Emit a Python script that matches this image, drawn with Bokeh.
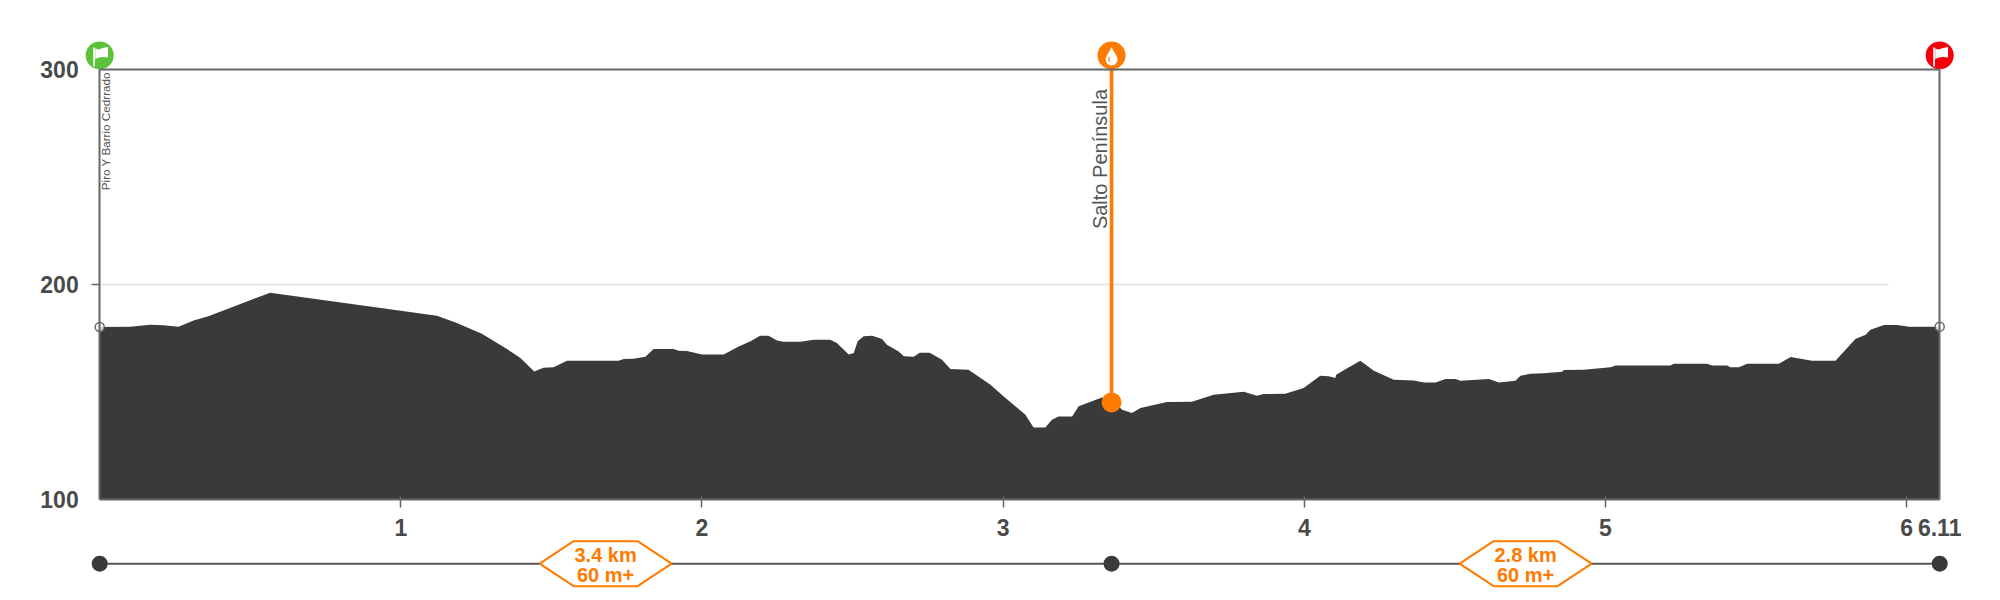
from bokeh.plotting import figure
from bokeh.models import LinearAxis, FixedTicker
from bokeh.core.properties import value
from bokeh.embed import file_html
from bokeh.resources import INLINE
import math

# ---- data ----
km = [0, .101, .168, .212, .262, .312, .361, .566, 1.120, 1.186, 1.269, 1.347, 1.397, 1.443, 1.474, 1.507, 1.552,
      1.723, 1.740, 1.773, 1.812, 1.839, 1.906, 1.922, 1.950, 2.000, 2.072, 2.122, 2.161, 2.193, 2.221, 2.249, 2.271,
      2.327, 2.371, 2.426, 2.448, 2.487, 2.504, 2.517, 2.537, 2.565, 2.598, 2.614, 2.653, 2.670, 2.703, 2.723, 2.756,
      2.797, 2.825, 2.885, 2.902, 2.958, 3.002, 3.074, 3.101, 3.140, 3.162, 3.184, 3.229, 3.251, 3.328, 3.360, 3.395,
      3.428, 3.456, 3.544, 3.627, 3.699, 3.799, 3.843, 3.865, 3.937, 3.998, 4.053, 4.081, 4.103, 4.106, 4.131, 4.186,
      4.231, 4.297, 4.364, 4.397, 4.436, 4.469, 4.502, 4.519, 4.613, 4.646, 4.701, 4.718, 4.751, 4.795, 4.856, 4.862,
      4.928, 5.017, 5.034, 5.216, 5.227, 5.338, 5.354, 5.404, 5.415, 5.443, 5.471, 5.576, 5.615, 5.686, 5.764, 5.830,
      5.864, 5.880, 5.925, 5.969, 6.008, 6.11]
elevation = [180.2, 180.4, 181.3, 181.1, 180.4, 183.2, 185.2, 196.2, 185.5, 182.1, 177.1, 170.5, 165.8, 159.6, 161.3, 161.5, 164.6,
             164.6, 165.4, 165.5, 166.4, 170, 170, 169.2, 169.1, 167.4, 167.5, 171.2, 173.6, 176.2, 176.2, 174, 173.4,
             173.4, 174.3, 174.3, 172.8, 167.4, 168.1, 173.6, 175.9, 176.2, 174.6, 172, 168.9, 166.6, 166.4, 168.3, 168.3,
             165, 160.7, 160.4, 158.8, 153.4, 148, 139.5, 133.6, 133.6, 137.2, 138.6, 138.6, 143.4, 147.5, 146.5, 141.8,
             140.3, 142.6, 145.4, 145.5, 148.8, 150.2, 148.3, 149.1, 149.2, 151.9, 157.6, 157.3, 156.5, 158.1, 160.1, 164.6,
             159.9, 155.7, 155.4, 154.5, 154.5, 156.1, 156.1, 155.3, 156.1, 154.5, 155.3, 157.6, 158.5, 158.8, 159.5, 160.2,
             160.4, 161.5, 162.3, 162.3, 163.2, 163.2, 162.3, 162.3, 161.5, 161.5, 163.2, 163.2, 166.3, 164.6, 164.6, 174.6,
             176.6, 178.9, 181.2, 181.2, 180.4, 180.4]
total_km = 6.11
stop_km = 3.36
stop_elevation = 145.2
x_ticks = [1, 2, 3, 4, 5, 6]
x_tick_labels = {1: "1", 2: "2", 3: "3", 4: "4", 5: "5", 6: "6", 6.11: "6.11"}
y_labels = {100: "100", 200: "200", 300: "300"}
y_bottom, y_mid, y_top = 100, 200, 300
grid_end_km = 5.94
start_name = "Piro Y Barrio Cedrrado"
stop_name = "Salto Península"
segment_centres = [1.68, 4.735]
segment_dist = ["3.4 km", "2.8 km"]
segment_gain = ["60 m+", "60 m+"]

# ---- layout ----
PX_KM = 1840 / 6.11
PX_M = 430.5 / 200
W, H = 1992, 592
LEFT, BOTTOM = 99.2, 499.2   # canvas position of km 0 / 100 m
x_start = -LEFT / PX_KM
x_end = (W - LEFT) / PX_KM
y_end = 100 + BOTTOM / PX_M
y_start = 100 - (H - BOTTOM) / PX_M

DARK = "#3a3a3a"
FRAME = "#666666"
LABEL = "#4a4a4a"
ORANGE = "#ff7a00"
FONT = "Liberation Sans"

p = figure(width=W, height=H, x_range=(x_start, x_end), y_range=(y_start, y_end),
           x_axis_location=None, y_axis_location=None, toolbar_location=None,
           output_backend="svg", min_border=0, outline_line_color=None,
           background_fill_color="white", border_fill_color="white")
p.grid.visible = False


def dx(px):
    return px / PX_KM


def dy(px):
    return -px / PX_M


# grid line, profile
p.segment(x0=[0], y0=[y_mid], x1=[grid_end_km], y1=[y_mid], line_color="#e6e6e6", line_width=2)
p.varea(x=km, y1=[y_bottom] * len(km), y2=elevation, fill_color=DARK)

# axes (the frame itself is drawn by axes as well)
xaxis = LinearAxis(fixed_location=y_bottom, bounds=(0, total_km),
                   ticker=FixedTicker(ticks=x_ticks + [total_km], minor_ticks=x_ticks),
                   major_label_overrides=x_tick_labels,
                   major_tick_line_color=None, major_tick_in=0, major_tick_out=8,
                   minor_tick_line_color=FRAME, minor_tick_line_width=1.5, minor_tick_in=3, minor_tick_out=8,
                   axis_line_color=FRAME, axis_line_width=2, major_label_standoff=11,
                   major_label_text_font=FONT, major_label_text_font_size="23px",
                   major_label_text_font_style="bold", major_label_text_color=LABEL)
p.add_layout(xaxis, "below")

yaxis = LinearAxis(fixed_location=0, bounds=(y_bottom, y_top),
                   ticker=FixedTicker(ticks=list(y_labels), minor_ticks=[y_mid]),
                   major_label_overrides=y_labels,
                   major_tick_line_color=None, major_tick_in=0, major_tick_out=0,
                   minor_tick_line_color=FRAME, minor_tick_line_width=1.5, minor_tick_in=0, minor_tick_out=8,
                   axis_line_color=FRAME, axis_line_width=2, major_label_standoff=13,
                   major_label_text_font=FONT, major_label_text_font_size="23px",
                   major_label_text_font_style="bold", major_label_text_color=LABEL)
p.add_layout(yaxis, "left")

p.add_layout(LinearAxis(fixed_location=total_km, bounds=(y_bottom, y_top), ticker=FixedTicker(ticks=[]),
                        axis_line_color=FRAME, axis_line_width=2, major_label_text_font_size="0px",
                        major_tick_line_color=None, minor_tick_line_color=None), "right")
p.add_layout(LinearAxis(fixed_location=y_top, bounds=(0, total_km), ticker=FixedTicker(ticks=[]),
                        axis_line_color=FRAME, axis_line_width=2, major_label_text_font_size="0px",
                        major_tick_line_color=None, minor_tick_line_color=None), "above")

# end rings on the frame
p.scatter(x=[0, total_km], y=[elevation[0], elevation[-1]], size=9, marker="circle",
          fill_color="white", fill_alpha=0.8, line_color=FRAME, line_width=1.5)

# stop line and marker
badge_y = y_top + 13.8 / PX_M
p.segment(x0=[stop_km], y0=[badge_y], x1=[stop_km], y1=[stop_elevation], line_color=ORANGE, line_width=3.6)
p.scatter(x=[stop_km], y=[stop_elevation], size=20, marker="circle", fill_color=ORANGE, line_color=None)

# place names
p.text(x=[0], y=[y_top], text=[start_name], angle=math.pi / 2, x_offset=6.2, y_offset=2.8,
       text_align="right", text_baseline="alphabetic", text_font=value(FONT),
       text_font_size="11.7px", text_color="#555555")
p.text(x=[stop_km], y=[y_top], text=[stop_name], angle=math.pi / 2, x_offset=-11.5, y_offset=19.8,
       text_align="right", text_baseline="alphabetic", text_font=value(FONT),
       text_font_size="20px", text_color="#555555")

# badges
p.scatter(x=[0], y=[badge_y], size=28, marker="circle", fill_color="#5ec13c", line_color=None)
p.scatter(x=[stop_km], y=[badge_y], size=28, marker="circle", fill_color=ORANGE, line_color=None)
p.scatter(x=[total_km], y=[badge_y], size=28, marker="circle", fill_color="#f5000a", line_color=None)


def icon(cx, pts, color):
    p.patch(x=[cx + dx(a) for a, _ in pts], y=[badge_y + dy(b) for _, b in pts],
            fill_color=color, line_color=None)


flag = [(-4.5, -7), (-1, -6), (3, -7.5), (8.3, -8.5), (8.3, 2), (3, 1.5), (-1, 2), (-4.5, 3.5)]
pole = [(-6.5, -8), (-4.8, -8), (-4.8, 11), (-6.5, 11)]
for cx in (0, total_km):
    icon(cx, flag, "white")
    icon(cx, pole, "white")
drop = [(0, -8.3), (2, -4.5), (4.5, -.5), (6, 3.5), (5.5, 6.5), (3.5, 9), (0, 10),
        (-3.5, 9), (-5.5, 6.5), (-6, 3.5), (-4.5, -.5), (-2, -4.5)]
streak = [(-3.2, 2), (-3, 5.5), (-1, 7.2), (-2, 3.5), (-1.6, 1)]
icon(stop_km, drop, "white")
icon(stop_km, streak, ORANGE)

# stage strip
strip_y = 100 - 64 / PX_M
p.segment(x0=[0], y0=[strip_y], x1=[total_km], y1=[strip_y], line_color="#555555", line_width=2)
p.scatter(x=[0, stop_km, total_km], y=[strip_y] * 3, size=16, marker="circle", fill_color=DARK, line_color=None)
hexagon = [(-66, 0), (-32, -22.5), (32, -22.5), (66, 0), (32, 22.5), (-32, 22.5)]
for c, d, g in zip(segment_centres, segment_dist, segment_gain):
    p.patch(x=[c + dx(a) for a, _ in hexagon], y=[strip_y + dy(b) for _, b in hexagon],
            fill_color="white", line_color=ORANGE, line_width=2)
    p.text(x=[c], y=[strip_y], text=[d], y_offset=-9, text_align="center", text_baseline="middle",
           text_font=value(FONT), text_font_size="20px", text_font_style="bold", text_color=ORANGE)
    p.text(x=[c], y=[strip_y], text=[g], y_offset=11, text_align="center", text_baseline="middle",
           text_font=value(FONT), text_font_size="20px", text_font_style="bold", text_color=ORANGE)

open("out.html", "w").write(file_html(p, INLINE))
